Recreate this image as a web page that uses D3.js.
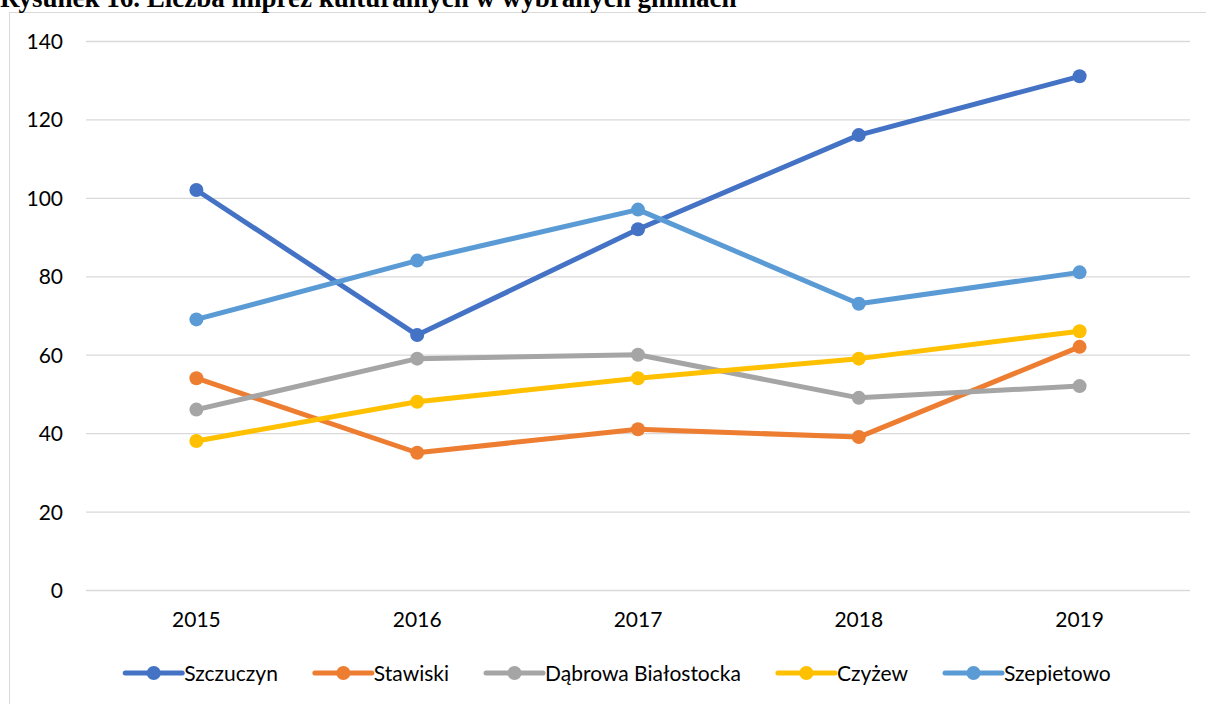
<!DOCTYPE html>
<html><head><meta charset="utf-8">
<script src="https://cdn.jsdelivr.net/npm/d3@7"></script>
<style>html,body{margin:0;padding:0;background:#fff;overflow:hidden}</style>
</head><body>
<svg id="c" width="1206" height="704"></svg>
<script>
const titleText = "Rysunek 16. Liczba imprez kulturalnych w wybranych gminach";
const years = ["2015","2016","2017","2018","2019"];
const seriesNames = ["Szczuczyn","Stawiski","Dąbrowa Białostocka","Czyżew","Szepietowo"];
const szczuczyn = [102,65,92,116,131];
const stawiski = [54,35,41,39,62];
const dabrowa = [46,59,60,49,52];
const czyzew = [38,48,54,59,66];
const szepietowo = [69,84,97,73,81];
const yTicks = [0,20,40,60,80,100,120,140];
const colors = ["#4472C4","#ED7D31","#A5A5A5","#FFC000","#5B9BD5"];

const series = [szczuczyn,stawiski,dabrowa,czyzew,szepietowo].map((v,i)=>({name:seriesNames[i],values:v,color:colors[i]}));

const svg = d3.select("#c");
const font = "Lato, 'Open Sans', sans-serif";
const fs = 21;

// frame
svg.append("rect").attr("x",9.5).attr("y",12.5).attr("width",1230).attr("height",720)
  .attr("fill","#fff").attr("stroke","#d9d9d9").attr("stroke-width",1);

// title
const t = svg.append("text").attr("x",0).attr("y",7)
  .attr("font-family","'Liberation Serif','Times New Roman',serif").attr("font-weight","bold")
  .attr("font-size",22).attr("fill","#000").text(titleText);
const tw = t.node().getComputedTextLength();
t.attr("font-size", 22*737/tw);

const x = d3.scaleBand().domain(years).range([86,1190]);
const y = d3.scaleLinear().domain([0,140]).range([590,41]);

// grid
svg.append("g").selectAll("line").data(yTicks).join("line")
  .attr("x1",86).attr("x2",1190).attr("y1",d=>y(d)+0.5).attr("y2",d=>y(d)+0.5)
  .attr("stroke","#d9d9d9").attr("stroke-width",1.3);

// y axis labels
const yAxis = svg.append("g").attr("transform","translate(63,0)")
  .call(d3.axisLeft(y).tickValues(yTicks).tickSize(0).tickPadding(0));
yAxis.select(".domain").remove();
yAxis.selectAll("text").attr("font-family",font).attr("font-size",fs).attr("fill","#000").attr("dy","0.36em");

// x axis labels
const xAxis = svg.append("g").attr("transform","translate(0,612)")
  .call(d3.axisBottom(x).tickSize(0).tickPadding(0));
xAxis.select(".domain").remove();
xAxis.selectAll("text").attr("font-family",font).attr("font-size",fs).attr("fill","#000").attr("dy","0.71em");

const cx = d=>x(d)+x.bandwidth()/2;
const line = d3.line().x((d,i)=>cx(years[i])).y(d=>y(d));

const g = svg.append("g");
series.forEach(s=>{
  g.append("path").attr("d",line(s.values)).attr("fill","none").attr("stroke",s.color)
    .attr("stroke-width",5).attr("stroke-linejoin","round").attr("stroke-linecap","round");
  g.selectAll(null).data(s.values).join("circle")
    .attr("cx",(d,i)=>cx(years[i])).attr("cy",d=>y(d)).attr("r",7).attr("fill",s.color);
});

// legend
const leg = svg.append("g");
const items = [];
series.forEach(s=>{
  const it = leg.append("g");
  it.append("line").attr("x1",0).attr("x2",57).attr("y1",0).attr("y2",0)
    .attr("stroke",s.color).attr("stroke-width",5).attr("stroke-linecap","round");
  it.append("circle").attr("cx",28.5).attr("cy",0).attr("r",7).attr("fill",s.color);
  const tx = it.append("text").attr("x",59).attr("y",0).attr("dy","0.36em")
    .attr("font-family",font).attr("font-size",fs).attr("fill","#000").text(s.name);
  items.push({g:it,w:59+tx.node().getComputedTextLength()});
});
const gap = 37;
const total = d3.sum(items,d=>d.w)+gap*(items.length-1);
let lx = 618 - total/2;
items.forEach(it=>{ it.g.attr("transform",`translate(${lx},673)`); lx += it.w+gap; });
</script>
</body></html>
